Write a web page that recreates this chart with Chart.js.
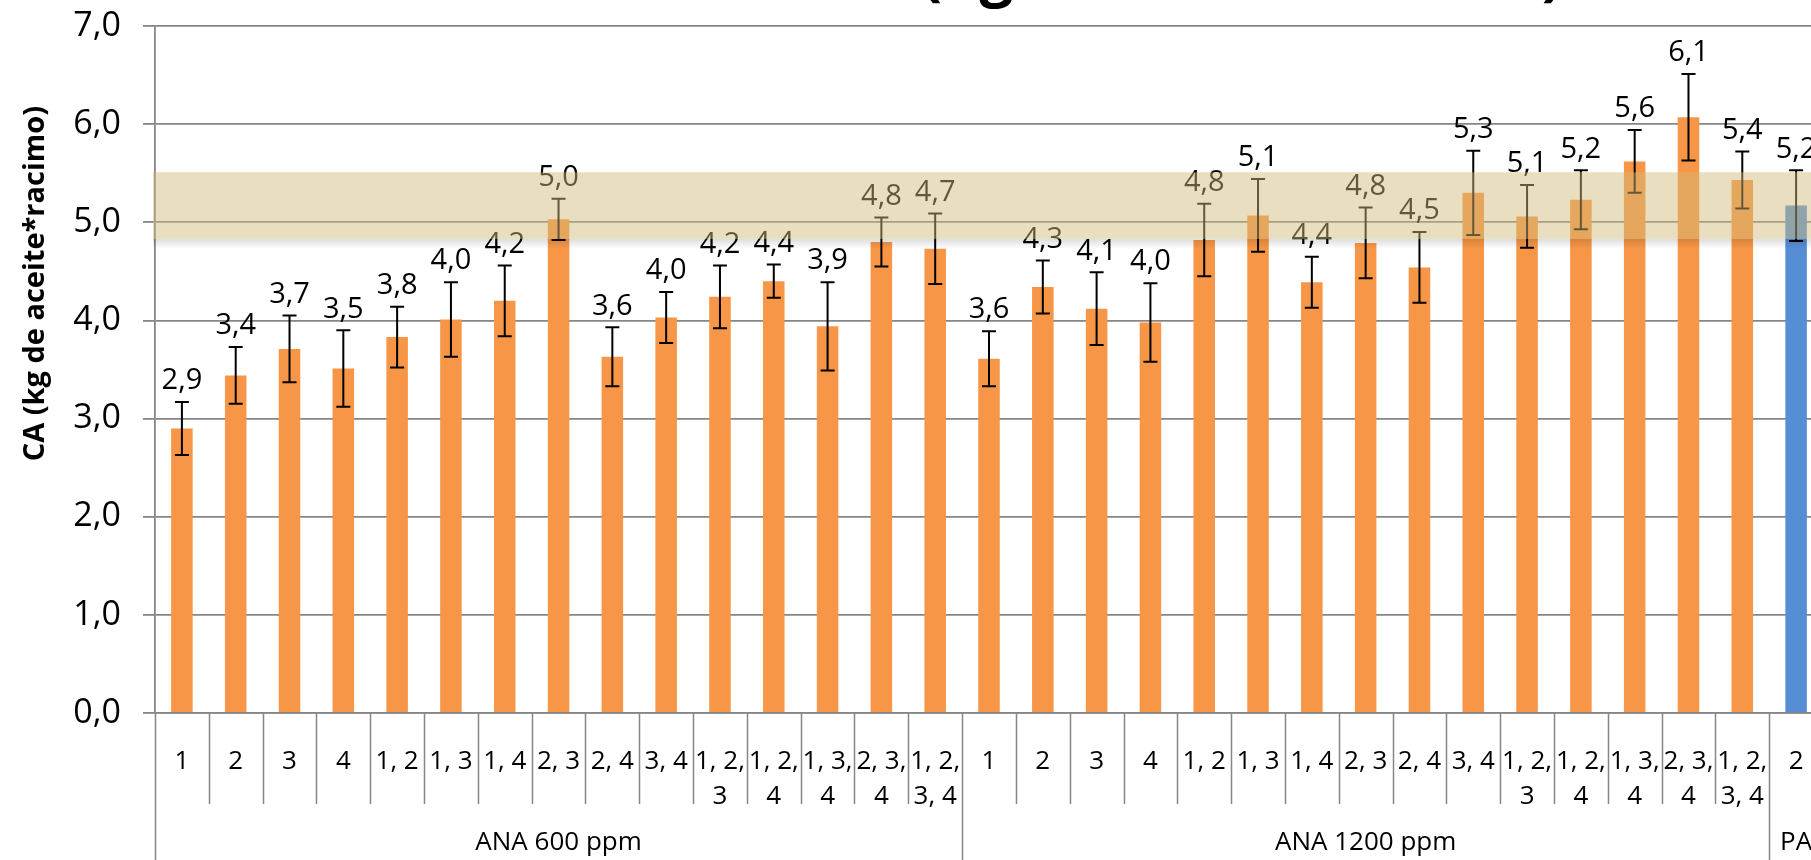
<!DOCTYPE html>
<html lang="es">
<head>
<meta charset="utf-8">
<title>CA (kg de aceite*racimo)</title>
<script src="https://cdn.jsdelivr.net/npm/chart.js@4.4.1/dist/chart.umd.min.js"></script>
<style>
    html, body { margin: 0; padding: 0; background: #fff; overflow: hidden; }
    #caChart { display: block; }
</style>
</head>
<body>
<canvas id="caChart" width="1823" height="860"></canvas>
<script>
// Datos de la gráfica
const tituloGrafico = 'CA (kg de aceite*racimo)';
const categorias = [
    '1', '2', '3', '4', '1, 2', '1, 3', '1, 4', '2, 3', '2, 4', '3, 4', '1, 2, 3', '1, 2, 4', '1, 3, 4', '2, 3, 4', '1, 2, 3, 4',
    '1', '2', '3', '4', '1, 2', '1, 3', '1, 4', '2, 3', '2, 4', '3, 4', '1, 2, 3', '1, 2, 4', '1, 3, 4', '2, 3, 4', '1, 2, 3, 4',
    '2'
];
const grupos = ['ANA 600 ppm', 'ANA 1200 ppm', 'PA'];
const barrasPorGrupo = [15, 15, 1];
const valoresCA = [
    2.90, 3.44, 3.71, 3.51, 3.83, 4.01, 4.20, 5.03, 3.63, 4.03, 4.24, 4.40, 3.94, 4.80, 4.73,
    3.61, 4.34, 4.12, 3.98, 4.82, 5.07, 4.39, 4.79, 4.54, 5.30, 5.06, 5.23, 5.62, 6.07, 5.43,
    5.17
];
const erroresCA = [
    0.27, 0.29, 0.34, 0.39, 0.31, 0.38, 0.36, 0.21, 0.30, 0.26, 0.32, 0.17, 0.45, 0.25, 0.36,
    0.28, 0.27, 0.37, 0.40, 0.37, 0.37, 0.26, 0.36, 0.36, 0.43, 0.32, 0.30, 0.32, 0.44, 0.29,
    0.36
];
const coloresGrupo = ['#F79646', '#F79646', '#558ED5'];
const franjaCA = [4.83, 5.51];

const fuente = "'Open Sans', 'DejaVu Sans', sans-serif";
const colorRejilla = '#868686';

// grupo al que pertenece cada barra
const grupoDeBarra = [];
barrasPorGrupo.forEach((n, g) => {
    for (let i = 0; i < n; i++) grupoDeBarra.push(g);
});

// Excel parte las etiquetas largas en dos líneas
function etiquetaEnLineas(texto) {
    const partes = texto.split(', ');
    if (partes.length <= 2) return texto;
    return [partes.slice(0, 2).join(', ') + ',', partes.slice(2).join(', ')];
}

// Barras de error y etiquetas de valor
const barrasErrorPlugin = {
    id: 'barrasError',
    afterDatasetsDraw: (chart) => {
        const ctx = chart.ctx;
        const y = chart.scales.y;
        const meta = chart.getDatasetMeta(0);
        ctx.save();
        ctx.strokeStyle = '#000';
        ctx.lineWidth = 2;
        meta.data.forEach((bar, i) => {
            const arriba = y.getPixelForValue(valoresCA[i] + erroresCA[i]);
            const abajo = y.getPixelForValue(valoresCA[i] - erroresCA[i]);
            ctx.beginPath();
            ctx.moveTo(bar.x, arriba);
            ctx.lineTo(bar.x, abajo);
            ctx.moveTo(bar.x - 7, arriba);
            ctx.lineTo(bar.x + 7, arriba);
            ctx.moveTo(bar.x - 7, abajo);
            ctx.lineTo(bar.x + 7, abajo);
            ctx.stroke();
        });
        ctx.fillStyle = '#000';
        ctx.font = '29px ' + fuente;
        ctx.textAlign = 'center';
        ctx.textBaseline = 'middle';
        meta.data.forEach((bar, i) => {
            const arriba = y.getPixelForValue(valoresCA[i] + erroresCA[i]);
            ctx.fillText(valoresCA[i].toFixed(1).replace('.', ','), bar.x, arriba - 21);
        });
        ctx.restore();
    }
};

// Separadores de categorías y nombres de grupo bajo el eje X
const ejeAgrupadoPlugin = {
    id: 'ejeAgrupado',
    afterDraw: (chart) => {
        const ctx = chart.ctx;
        const area = chart.chartArea;
        const x = chart.scales.x;
        const ancho = x.width / categorias.length;
        const inicioX = x.getPixelForValue(0) - ancho / 2;
        const limites = [0];
        barrasPorGrupo.forEach(n => limites.push(limites[limites.length - 1] + n));

        ctx.save();
        ctx.strokeStyle = colorRejilla;
        ctx.lineWidth = 1.5;
        for (let i = 0; i <= categorias.length; i++) {
            const xi = Math.round(inicioX + i * ancho) + 0.5;
            const fin = limites.includes(i) ? chart.height : area.bottom + 91;
            ctx.beginPath();
            ctx.moveTo(xi, area.bottom);
            ctx.lineTo(xi, fin);
            ctx.stroke();
        }

        ctx.fillStyle = '#000';
        ctx.font = '26px ' + fuente;
        ctx.textBaseline = 'middle';
        grupos.forEach((nombre, g) => {
            const izq = inicioX + limites[g] * ancho;
            const der = inicioX + limites[g + 1] * ancho;
            const w = ctx.measureText(nombre).width;
            if ((izq + der) / 2 + w / 2 > chart.width) {
                ctx.textAlign = 'left';
                ctx.fillText(nombre, izq + 6, area.bottom + 130);
            } else {
                ctx.textAlign = 'center';
                ctx.fillText(nombre, (izq + der) / 2, area.bottom + 130);
            }
        });
        ctx.restore();
    }
};

// Franja sombreada entre franjaCA[0] y franjaCA[1]
const franjaPlugin = {
    id: 'franja',
    afterDraw: (chart) => {
        const ctx = chart.ctx;
        const area = chart.chartArea;
        const y = chart.scales.y;
        const arriba = y.getPixelForValue(franjaCA[1]);
        const abajo = y.getPixelForValue(franjaCA[0]);
        ctx.save();
        const sombra = ctx.createLinearGradient(0, abajo, 0, abajo + 10);
        sombra.addColorStop(0, 'rgba(0,0,0,0.13)');
        sombra.addColorStop(1, 'rgba(0,0,0,0)');
        ctx.fillStyle = sombra;
        ctx.fillRect(area.left - 2, abajo, chart.width, 10);
        ctx.fillStyle = 'rgba(208,186,121,0.47)';
        ctx.fillRect(area.left - 2, arriba, chart.width, abajo - arriba);
        ctx.restore();
    }
};

// Títulos (el de arriba queda recortado como en la imagen)
const titulosPlugin = {
    id: 'titulos',
    afterDraw: (chart) => {
        const ctx = chart.ctx;
        const area = chart.chartArea;
        ctx.save();
        ctx.fillStyle = '#000';
        ctx.font = 'bold 60px ' + fuente;
        ctx.textAlign = 'right';
        ctx.textBaseline = 'alphabetic';
        ctx.fillText(tituloGrafico, area.left + area.width * 0.8435, area.top - 32);

        ctx.translate(36, area.top + area.height * 0.375);
        ctx.rotate(-Math.PI / 2);
        ctx.font = 'bold 29px ' + fuente;
        ctx.textAlign = 'center';
        ctx.textBaseline = 'middle';
        ctx.fillText(tituloGrafico, 0, 0);
        ctx.restore();
    }
};

document.addEventListener('DOMContentLoaded', function() {
    const caCtx = document.getElementById('caChart').getContext('2d');
    new Chart(caCtx, {
        type: 'bar',
        data: {
            labels: categorias.map(etiquetaEnLineas),
            datasets: [{
                label: 'CA',
                data: valoresCA,
                backgroundColor: grupoDeBarra.map(g => coloresGrupo[g]),
                borderWidth: 0,
                barPercentage: 0.4,
                categoryPercentage: 1
            }]
        },
        options: {
            responsive: false,
            animation: false,
            devicePixelRatio: 1,
            layout: {
                padding: { top: 26, left: 0, right: 0, bottom: 0 }
            },
            plugins: {
                legend: { display: false },
                title: { display: false },
                tooltip: { enabled: false }
            },
            scales: {
                x: {
                    grid: { display: false },
                    border: { display: true, color: colorRejilla, width: 1.5 },
                    ticks: {
                        autoSkip: false,
                        maxRotation: 0,
                        padding: 23,
                        color: '#000',
                        font: { family: fuente, size: 26, lineHeight: 35 / 26 }
                    },
                    afterFit: (scale) => {
                        scale.height = 147;
                        scale.paddingLeft = 0;
                        scale.paddingRight = 0;
                    }
                },
                y: {
                    min: 0,
                    max: 7,
                    ticks: {
                        stepSize: 1,
                        padding: 22,
                        color: '#000',
                        font: { family: fuente, size: 34 },
                        callback: (v) => v.toFixed(1).replace('.', ',')
                    },
                    grid: {
                        color: colorRejilla,
                        lineWidth: 1.8,
                        tickLength: 12,
                        drawTicks: true
                    },
                    border: { display: true, color: colorRejilla, width: 1.8 },
                    afterFit: (scale) => {
                        scale.width = 155;
                        scale.paddingTop = 0;
                        scale.paddingBottom = 0;
                    }
                }
            }
        },
        plugins: [barrasErrorPlugin, ejeAgrupadoPlugin, franjaPlugin, titulosPlugin]
    });
});
</script>
</body>
</html>
